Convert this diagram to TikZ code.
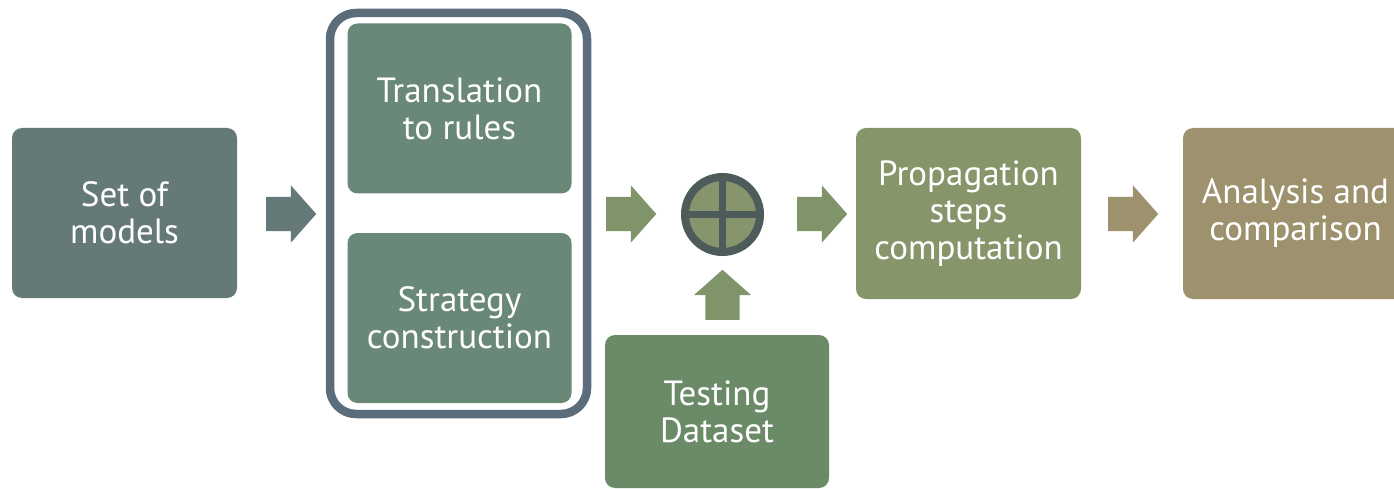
\documentclass[tikz,border=0pt]{standalone}
\usepackage{fontspec}
\setmainfont{PT Sans}
\usetikzlibrary{shapes.arrows}
\definecolor{cSet}{RGB}{102,121,121}
\definecolor{cFrame}{RGB}{91,108,122}
\definecolor{cInner}{RGB}{106,136,120}
\definecolor{cGreen}{RGB}{127,149,105}
\definecolor{cTest}{RGB}{107,139,104}
\definecolor{cProp}{RGB}{135,149,106}
\definecolor{cAna}{RGB}{158,146,110}
\definecolor{cRing}{RGB}{77,91,91}
\definecolor{cDisc}{RGB}{134,149,107}
\begin{document}
\begin{tikzpicture}[x=1pt,y=-1pt,
  box/.style={rounded corners=10pt, text=white, align=center,
    font=\fontsize{35}{37}\selectfont, inner sep=0pt,
    minimum width=225pt, minimum height=170pt},
  blockarrow/.style={shape=single arrow, inner xsep=0pt, inner ysep=17pt,
    minimum height=50pt, single arrow head extend=11.5pt,
    single arrow tip angle=97, draw=none, anchor=tail}]
\useasboundingbox (0,0) rectangle (1394,489);
\clip (0,0) rectangle (1394,489);
\fill[white] (0,0) rectangle (1394,489);

\node[box, fill=cSet] (set) at (124.5,213) {Set of\\models};
\node[draw=cFrame, line width=8.5pt, rounded corners=26pt,
  minimum width=257pt, minimum height=401pt, inner sep=0pt] (frame) at (458.5,213.5) {};
\node[box, fill=cInner, minimum width=224pt] (trans) at (459.5,108.5) {Translation\\to rules};
\node[box, fill=cInner, minimum width=224pt] (strat) at (459.5,318) {Strategy\\construction};
\node[box, fill=cTest, minimum width=224pt, minimum height=153pt] (test) at (717,411.5) {Testing\\Dataset};
\node[circle, draw=cRing, fill=cDisc, line width=8pt, minimum size=75pt, inner sep=0pt] (sum) at (722.5,214.5) {};
\draw[cRing, line width=7.5pt] (sum.north) -- (sum.south) (sum.west) -- (sum.east);
\node[box, fill=cProp, minimum height=171pt] (prop) at (968.5,213.5) {Propagation\\steps\\computation};
\node[box, fill=cAna, minimum height=171pt] (ana) at (1295.5,213.5) {Analysis and\\comparison};

\node[blockarrow, fill=cSet] (a1) at (266,214) {};
\node[blockarrow, fill=cGreen] (a2) at (606,214) {};
\node[blockarrow, fill=cGreen] (a3) at (797,214) {};
\node[blockarrow, fill=cAna] (a4) at (1108,214) {};
\node[blockarrow, fill=cGreen, rotate=90] (a5) at (722.5,320) {};
\end{tikzpicture}
\end{document}
